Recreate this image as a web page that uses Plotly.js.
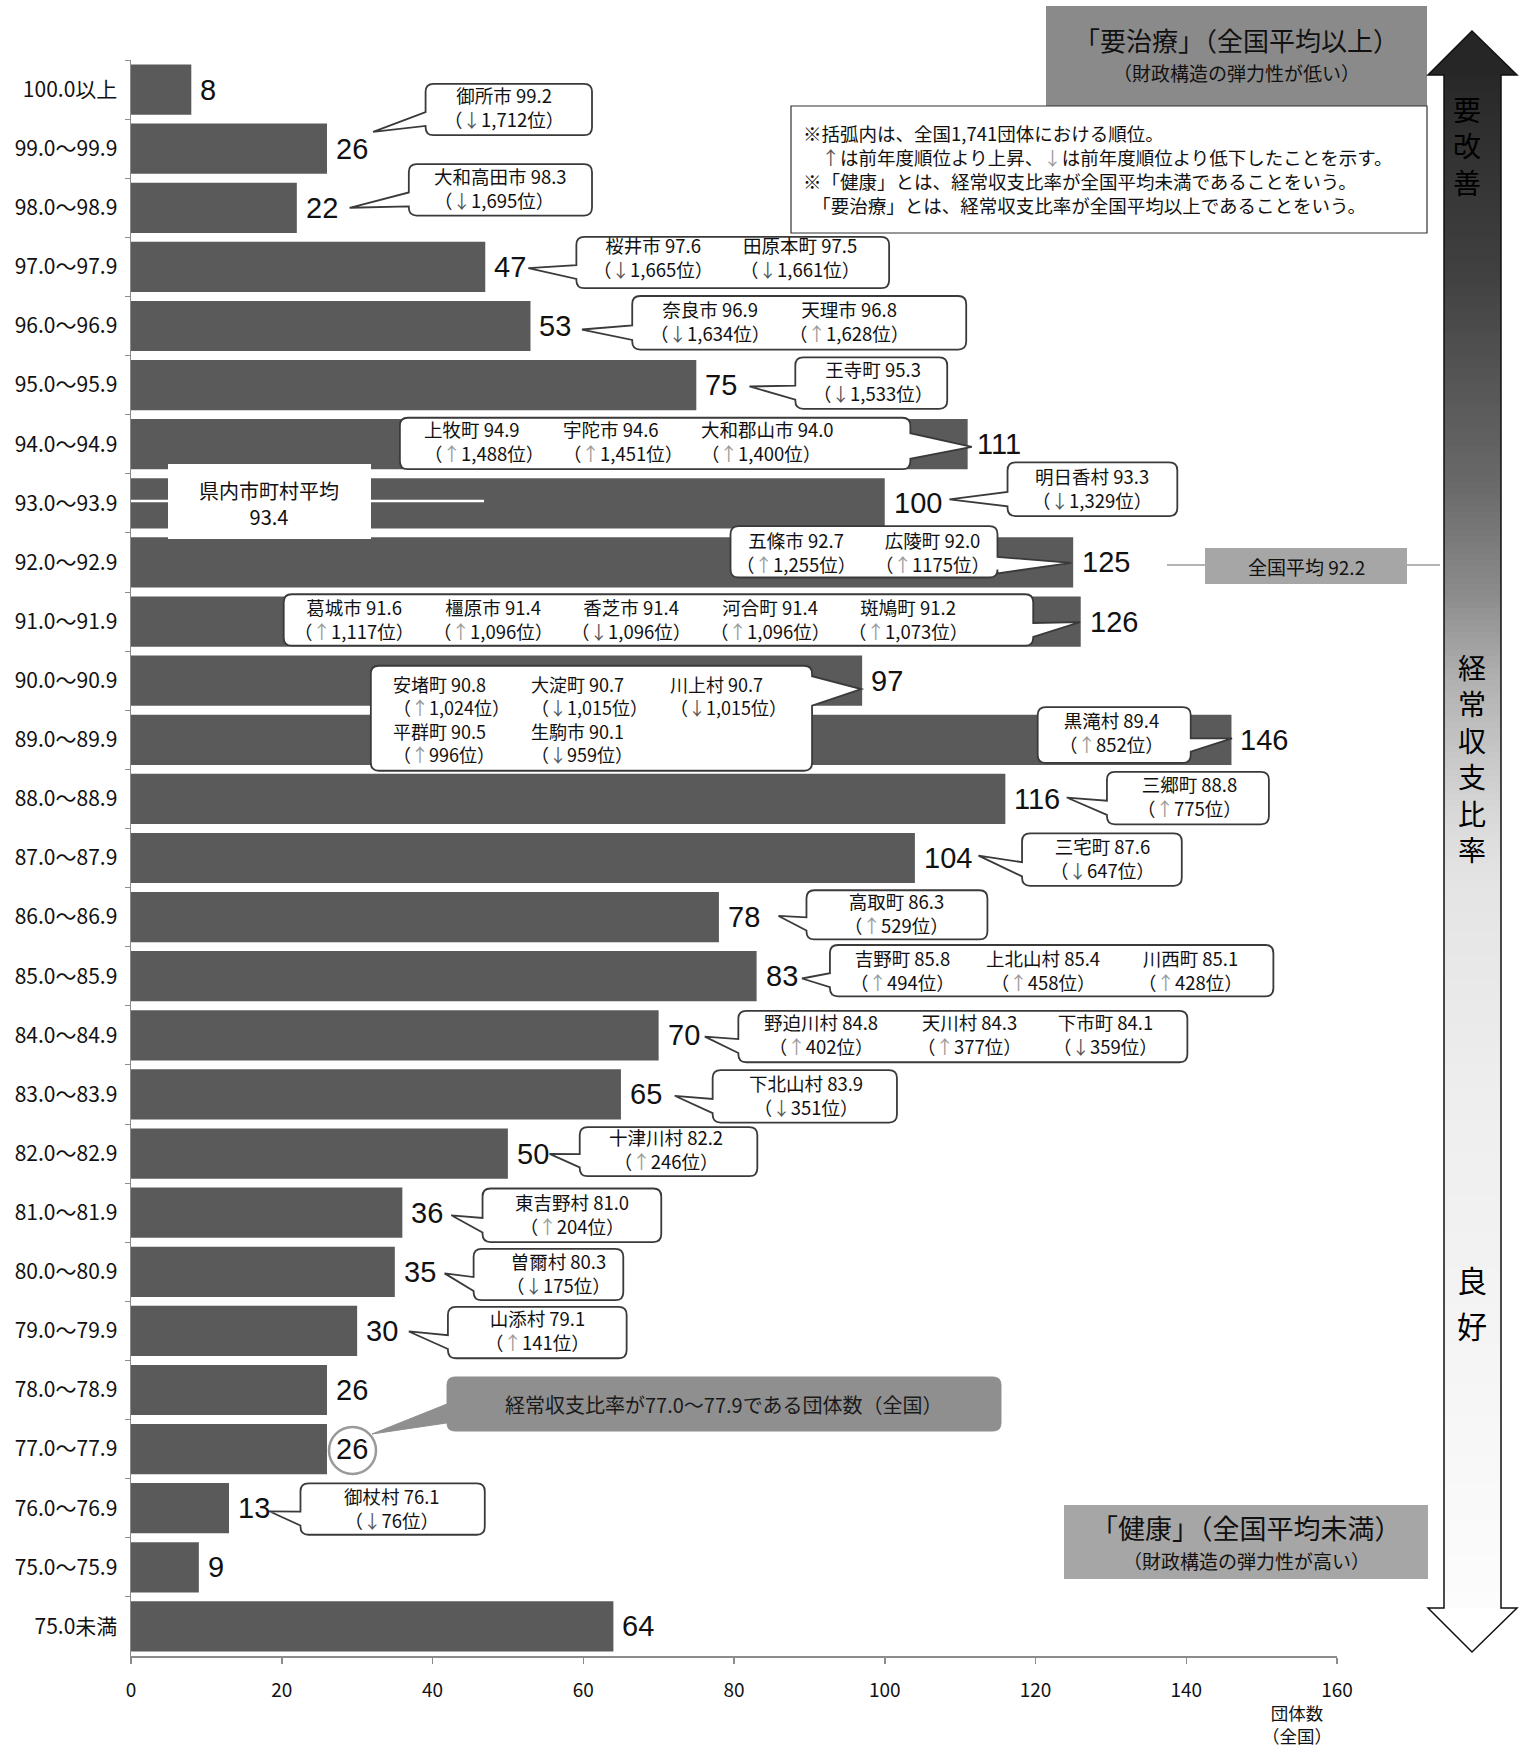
<!DOCTYPE html>
<html><head><meta charset="utf-8">
<script src="https://cdn.plot.ly/plotly-3.0.1.min.js"></script>
<style>html,body{margin:0;padding:0;background:#fff}</style>
</head><body><div id="chart" style="width:1526px;height:1751px"></div>
<script>
// ---------------- data ----------------
const categories = ["100.0以上","99.0～99.9","98.0～98.9","97.0～97.9","96.0～96.9","95.0～95.9","94.0～94.9","93.0～93.9","92.0～92.9","91.0～91.9","90.0～90.9","89.0～89.9","88.0～88.9","87.0～87.9","86.0～86.9","85.0～85.9","84.0～84.9","83.0～83.9","82.0～82.9","81.0～81.9","80.0～80.9","79.0～79.9","78.0～78.9","77.0～77.9","76.0～76.9","75.0～75.9","75.0未満"];
const counts = [8,26,22,47,53,75,111,100,125,126,97,146,116,104,78,83,70,65,50,36,35,30,26,26,13,9,64];
const xTicks = [0,20,40,60,80,100,120,140,160];

const calloutNames = [["御所市"],["大和高田市"],["桜井市","田原本町"],["奈良市","天理市"],["王寺町"],["上牧町","宇陀市","大和郡山市"],["明日香村"],["五條市","広陵町"],["葛城市","橿原市","香芝市","河合町","斑鳩町"],["安堵町","大淀町","川上村","平群町","生駒市"],["黒滝村"],["三郷町"],["三宅町"],["高取町"],["吉野町","上北山村","川西町"],["野迫川村","天川村","下市町"],["下北山村"],["十津川村"],["東吉野村"],["曽爾村"],["山添村"],["御杖村"]];
const calloutRatios = [["99.2"],["98.3"],["97.6","97.5"],["96.9","96.8"],["95.3"],["94.9","94.6","94.0"],["93.3"],["92.7","92.0"],["91.6","91.4","91.4","91.4","91.2"],["90.8","90.7","90.7","90.5","90.1"],["89.4"],["88.8"],["87.6"],["86.3"],["85.8","85.4","85.1"],["84.8","84.3","84.1"],["83.9"],["82.2"],["81.0"],["80.3"],["79.1"],["76.1"]];
const calloutMoves = [["↓"],["↓"],["↓","↓"],["↓","↑"],["↓"],["↑","↑","↑"],["↓"],["↑","↑"],["↑","↑","↓","↑","↑"],["↑","↓","↓","↑","↓"],["↑"],["↑"],["↓"],["↑"],["↑","↑","↑"],["↑","↑","↓"],["↓"],["↑"],["↑"],["↓"],["↑"],["↓"]];
const calloutRanks = [["1,712"],["1,695"],["1,665","1,661"],["1,634","1,628"],["1,533"],["1,488","1,451","1,400"],["1,329"],["1,255","1175"],["1,117","1,096","1,096","1,096","1,073"],["1,024","1,015","1,015","996","959"],["852"],["775"],["647"],["529"],["494","458","428"],["402","377","359"],["351"],["246"],["204"],["175"],["141"],["76"]];

const prefAverageLabel = "県内市町村平均";
const prefAverage = "93.4";
const nationalAverageLabel = "全国平均 92.2";

// ---------------- geometry helpers ----------------
const W = 1526, H = 1751;
const ML = 131, MT = 60, PW = 1206, PH = 1596;
const S = 1.117; // layout sketch units -> px
const X = px => (px - ML) / PW;
const Y = py => (MT + PH - py) / PH;
const FONT = "Noto Sans CJK JP, Noto Sans, sans-serif";

const shapes = [];
const annotations = [];

function txt(px, py, text, size, opts) {
  annotations.push(Object.assign({
    xref: 'paper', yref: 'paper', x: X(px), y: Y(py), text: text, showarrow: false,
    xanchor: 'center', yanchor: 'middle',
    font: {family: FONT, size: size, color: '#111'}
  }, opts || {}));
}
function rectPx(x1, y1, x2, y2, fill, line, lw) {
  shapes.push({type: 'rect', xref: 'paper', yref: 'paper', x0: X(x1), x1: X(x2), y0: Y(y2), y1: Y(y1),
    fillcolor: fill, line: {color: line || 'rgba(0,0,0,0)', width: lw || 0}, layer: 'above'});
}
function pathPx(pts, fill, line, lw) {
  let d = '';
  pts.forEach(p => {
    if (p[0] === 'Q') d += 'Q' + X(p[1]) + ',' + Y(p[2]) + ' ' + X(p[3]) + ',' + Y(p[4]) + ' ';
    else d += p[0] + X(p[1]) + ',' + Y(p[2]) + ' ';
  });
  d += 'Z';
  shapes.push({type: 'path', xref: 'paper', yref: 'paper', path: d, fillcolor: fill,
    line: {color: line || 'rgba(0,0,0,0)', width: lw || 0}, layer: 'above'});
}
function bubble(x1, y1, x2, y2, tip, side, base, fill, line, lw) {
  const r = 8, h = y2 - y1;
  const b1 = y1 + h * base[0], b2 = y1 + h * base[1];
  const p = [['M', x1 + r, y1], ['L', x2 - r, y1], ['Q', x2, y1, x2, y1 + r]];
  if (side === 'R') p.push(['L', x2, b1], ['L', tip[0], tip[1]], ['L', x2, b2]);
  p.push(['L', x2, y2 - r], ['Q', x2, y2, x2 - r, y2], ['L', x1 + r, y2], ['Q', x1, y2, x1, y2 - r]);
  if (side === 'L') p.push(['L', x1, b2], ['L', tip[0], tip[1]], ['L', x1, b1]);
  p.push(['L', x1, y1 + r], ['Q', x1, y1, x1 + r, y1]);
  pathPx(p, fill, line, lw);
}

// ---------------- callout geometry (sketch units) ----------------
const bubbleGeom = [
 {box:[381,75,530,121], tip:[334,118], side:'L', pos:[[451,96]]},
 {box:[366,147,530,193], tip:[313,186], side:'L', align:'left', pos:[[387,168]]},
 {box:[516,212,796,258], tip:[473,240], side:'L', pos:[[585,230],[716,230]]},
 {box:[566,265,865,313], tip:[521,295], side:'L', pos:[[636,287],[760,287]]},
 {box:[712,320,848,366], tip:[671,346], side:'L', pos:[[782,341]]},
 {box:[358,374,815,420], tip:[870,400], side:'R', base:[0.3,0.8], align:'left', pos:[[378,395],[502,395],[626,395]]},
 {box:[902,414,1054,462], tip:[850,447], side:'L', pos:[[978,437]]},
 {box:[654,471,893,517], tip:[959,504], side:'R', base:[0.6,0.92], pos:[[713,494],[835,494]]},
 {box:[254,532,925,578], tip:[967,557], side:'R', base:[0.56,0.83], pos:[[317,554],[441,554],[565,554],[689,554],[813,554]]},
 {box:[332,596,727,690], tip:[771,617], side:'R', base:[0.1,0.38], align:'left', stackTop:599, pos:[[350,620],[474,620],[598,620],[350,658],[474,658]]},
 {box:[929,633,1066,683], tip:[1103,661], side:'R', base:[0.56,0.8], pos:[[995,655]]},
 {box:[991,691,1136,738], tip:[955,714], side:'L', pos:[[1065,713]]},
 {box:[915,746,1058,793], tip:[876,766], side:'L', pos:[[987,768]]},
 {box:[722,797,884,841], tip:[697,820], side:'L', pos:[[803,817]]},
 {box:[743,846,1140,892], tip:[718,876], side:'L', pos:[[808,868],[934,868],[1066,868]]},
 {box:[661,905,1063,951], tip:[631,928], side:'L', pos:[[735,926],[868,926],[990,926]]},
 {box:[638,958,803,1005], tip:[604,981], side:'L', pos:[[722,980]]},
 {box:[519,1009,678,1053], tip:[492,1033], side:'L', pos:[[596,1029]]},
 {box:[432,1064,592,1112], tip:[404,1088], side:'L', pos:[[512,1087]]},
 {box:[424,1118,558,1164], tip:[398,1140], side:'L', pos:[[500,1140]]},
 {box:[401,1170,561,1216], tip:[366,1192], side:'L', pos:[[481,1191]]},
 {box:[269,1328,434,1374], tip:[241,1353], side:'L', pos:[[351,1350]]}
];

// ---------------- decorations ----------------
// prefecture average line + label box
shapes.push({type:'line', xref:'paper', yref:'paper', x0:X(131), x1:X(484), y0:Y(501), y1:Y(501), line:{color:'#ffffff', width:2.5}, layer:'above'});
rectPx(168, 464, 371, 539, '#ffffff');
txt(269, 503, prefAverageLabel + '<br>' + prefAverage, 20);

// national average
shapes.push({type:'line', xref:'paper', yref:'paper', x0:X(1167), x1:X(1440), y0:Y(565), y1:Y(565), line:{color:'#b4b4b4', width:2}, layer:'above'});
rectPx(1205, 548, 1407, 584, '#a6a6a6');
txt(1306, 566, nationalAverageLabel, 19);

// speech bubbles
function entryText(bi, ei) {
  const mv = calloutMoves[bi][ei];
  const col = mv === '↑' ? '#9a9a9a' : '#555555';
  return calloutNames[bi][ei] + ' ' + calloutRatios[bi][ei] + '<br>（<span style="color:' + col + '">' + mv + '</span>' + calloutRanks[bi][ei] + '位）';
}
bubbleGeom.forEach((g, bi) => {
  const b = g.box.map(v => v * S);
  bubble(b[0], b[1], b[2], b[3], [g.tip[0]*S, g.tip[1]*S], g.side, g.base || [0.55, 0.82], '#ffffff', '#3a3a3a', 1.8);
  const opts = g.align === 'left' ? {xanchor:'left', align:'left'} : {align:'center'};
  if (g.stackTop) {
    // entries sharing a column are stacked into one text block
    const groups = {};
    g.pos.forEach((p, ei) => { (groups[p[0]] = groups[p[0]] || []).push(ei); });
    Object.keys(groups).forEach(k => {
      const t = groups[k].map(ei => entryText(bi, ei)).join('<br>');
      txt(Number(k) * S, g.stackTop * S, t, 18, Object.assign({yanchor:'top'}, opts));
    });
  } else {
    g.pos.forEach((p, ei) => txt(p[0]*S, p[1]*S, entryText(bi, ei), 18.5, opts));
  }
});

// grey callout for 77.0~77.9
bubble(447, 1377, 1001, 1431, [372, 1434], 'L', [0.5, 0.85], '#8f8f8f', '#8f8f8f', 1);
txt(724, 1404, '経常収支比率が77.0～77.9である団体数（全国）', 20, {font:{family:FONT, size:20, color:'#1a1a1a'}});
shapes.push({type:'circle', xref:'paper', yref:'paper', x0:X(329), x1:X(376), y0:Y(1474), y1:Y(1427), line:{color:'#9a9a9a', width:2.5}, layer:'above'});

// headline boxes
rectPx(1046, 6, 1427, 106, '#8a8a8a');
txt(1236, 39, '「要治療」（全国平均以上）', 26);
txt(1236, 72, '（財政構造の弾力性が低い）', 19);
rectPx(791, 106, 1427, 233, '#ffffff', '#333333', 1.2);
const noteText = '※括弧内は、全国1,741団体における順位。<br>' +
  '　<span style="color:#555">↑</span>は前年度順位より上昇、<span style="color:#9a9a9a">↓</span>は前年度順位より低下したことを示す。<br>' +
  '※「健康」とは、経常収支比率が全国平均未満であることをいう。<br>' +
  '　「要治療」とは、経常収支比率が全国平均以上であることをいう。';
txt(801, 169, noteText, 18.5, {xanchor:'left', align:'left'});

rectPx(1064, 1505, 1428, 1579, '#a6a6a6');
txt(1246, 1527, '「健康」（全国平均未満）', 27);
txt(1246, 1560, '（財政構造の弾力性が高い）', 19);

// vertical gradient arrow
const stops = [[74,40],[270,64],[487,106],[596,140],[678,176],[813,216],[880,228],[1100,238],[1400,246],[1608,252]];
function grayAt(y) {
  for (let i = 0; i < stops.length - 1; i++) {
    if (y <= stops[i+1][0]) {
      const t = (y - stops[i][0]) / (stops[i+1][0] - stops[i][0]);
      return Math.round(stops[i][1] + t * (stops[i+1][1] - stops[i][1]));
    }
  }
  return stops[stops.length-1][1];
}
for (let y = 74; y < 1608; y += 6) {
  const g = grayAt(y + 3);
  rectPx(1444, y, 1501, Math.min(y + 6.5, 1608), 'rgb(' + g + ',' + g + ',' + g + ')');
}
pathPx([['M',1428,75],['L',1472,31],['L',1517,75]], '#262626');
pathPx([['M',1428,1608],['L',1472,1652],['L',1517,1608]], '#ffffff');
pathPx([['M',1444,1608],['L',1444,75],['L',1428,75],['L',1472,31],['L',1517,75],['L',1501,75],['L',1501,1608],['L',1517,1608],['L',1472,1652],['L',1428,1608]], 'rgba(0,0,0,0)', '#111111', 1.5);
txt(1467, 145, '要<br>改<br>善', 28, {font:{family:FONT, size:28, color:'#000'}});
txt(1472, 758, '経<br>常<br>収<br>支<br>比<br>率', 28, {font:{family:FONT, size:28, color:'#000'}});
txt(1472, 1279, '良', 30, {font:{family:FONT, size:30, color:'#000'}});
txt(1472, 1325, '好', 30, {font:{family:FONT, size:30, color:'#000'}});

// axis title
txt(1297, 1724, '団体数<br>（全国）', 17.5);

// value labels from data
categories.forEach((c, i) => {
  annotations.push({xref:'x', yref:'y', x: counts[i], y: c, text: String(counts[i]), showarrow:false,
    xanchor:'left', yanchor:'middle', xshift: 7,
    font:{family:'Liberation Sans, Arial, sans-serif', size:29, color:'#111'}});
});

// ---------------- plot ----------------
const trace = {
  type:'bar', orientation:'h', y: categories, x: counts,
  marker:{color:'#5a5a5a'}, hoverinfo:'none'
};
const layout = {
  width: W, height: H,
  margin: {l: ML, r: W - ML - PW, t: MT, b: H - MT - PH, pad: 0},
  paper_bgcolor:'#ffffff', plot_bgcolor:'#ffffff',
  showlegend:false, bargap: 0.15,
  font:{family: FONT, color:'#111'},
  xaxis:{range:[0,160], tickvals: xTicks, ticktext: xTicks.map(String), showgrid:false, zeroline:false,
    showline:true, linecolor:'#8c8c8c', linewidth:2, ticks:'outside', ticklen:6, tickcolor:'#8c8c8c', tickwidth:1.5,
    tickfont:{family: FONT, size:19, color:'#111'}, ticklabelstandoff: 10, fixedrange:true},
  yaxis:{type:'category', categoryorder:'array', categoryarray: categories, autorange:'reversed',
    showgrid:false, zeroline:false, showline:true, linecolor:'#8c8c8c', linewidth:1.5,
    ticks:'outside', ticklen:5, tickcolor:'#8c8c8c', tickson:'boundaries',
    tickfont:{family: FONT, size:21, color:'#111'}, ticklabelstandoff: 8, fixedrange:true},
  shapes: shapes,
  annotations: annotations
};
Plotly.newPlot('chart', [trace], layout, {displayModeBar:false, staticPlot:true});
</script>
</body></html>
